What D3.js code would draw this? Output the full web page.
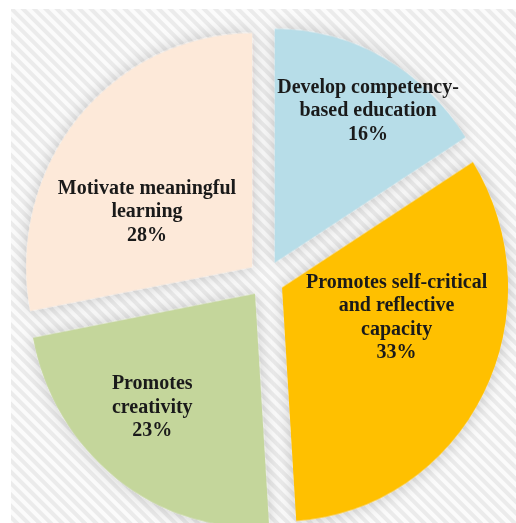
<!DOCTYPE html>
<html lang="en">
<head>
<meta charset="UTF-8">
<title>Pie chart with d3</title>
<script src="https://d3js.org/d3.v7.min.js"></script>
<style>
    body { margin: 0; background: #fff; }
    svg { display: block; }
    .label { font-family: 'Liberation Serif', 'Times New Roman', serif; font-weight: bold; font-size: 20px; fill: #1a1a1a; }
</style>
</head>
<body>
<script>
// data
var categories = ['Develop competency-based education', 'Promotes self-critical and reflective capacity', 'Promotes creativity', 'Motivate meaningful learning'];
var values = [16, 33, 23, 28];
var labelLines = [
    ['Develop competency-', 'based education'],
    ['Promotes self-critical', 'and reflective', 'capacity'],
    ['Promotes', 'creativity'],
    ['Motivate meaningful', 'learning']
];
var colors = ['#b7dde8', '#ffc000', '#c4d69b', '#fde9d9'];

// layout
var width = 516, height = 523;
var cx = 266, cy = 279, radius = 226, yStretch = 1.035, explode = 18;
var lineHeight = 23.5;
// where each label sits, measured from the pie centre
var labelR = [197, 136, 171, 137];
var labelShift = [2.4, -10.8, 3.9, -9.9]; // degrees

var svg = d3.select('body').append('svg')
    .attr('width', width)
    .attr('height', height);

var defs = svg.append('defs');

// striped background
var pattern = defs.append('pattern')
    .attr('id', 'stripes')
    .attr('patternUnits', 'userSpaceOnUse')
    .attr('width', 8)
    .attr('height', 8)
    .attr('patternTransform', 'rotate(-45)');
pattern.append('rect').attr('width', 8).attr('height', 8).attr('fill', '#fbfbfb');
pattern.append('rect').attr('width', 4).attr('height', 8).attr('fill', '#ebebeb');

var shadow = defs.append('filter')
    .attr('id', 'shadow')
    .attr('x', '-20%').attr('y', '-20%')
    .attr('width', '140%').attr('height', '140%');
shadow.append('feDropShadow')
    .attr('dx', 0).attr('dy', 0)
    .attr('stdDeviation', 8)
    .attr('flood-color', '#000')
    .attr('flood-opacity', 0.2);

svg.append('rect')
    .attr('x', 11).attr('y', 9)
    .attr('width', width - 11).attr('height', height - 9)
    .attr('fill', 'url(#stripes)');

var pie = d3.pie().sort(null).value(d => d);
var arcs = pie(values);

var arc = d3.arc().innerRadius(0).outerRadius(radius);

var g = svg.append('g')
    .attr('transform', 'translate(' + cx + ',' + cy + ') scale(1,' + yStretch + ')')
    .attr('filter', 'url(#shadow)');

g.selectAll('path')
    .data(arcs)
    .enter()
    .append('path')
    .attr('d', arc)
    .attr('fill', (d, i) => colors[i])
    .attr('transform', function(d) {
        var mid = (d.startAngle + d.endAngle) / 2;
        return 'translate(' + (explode * Math.sin(mid)) + ',' + (-explode * Math.cos(mid)) + ')';
    });

// labels
var total = d3.sum(values);
var labels = svg.append('g');
arcs.forEach(function(d, i) {
    var mid = (d.startAngle + d.endAngle) / 2 + labelShift[i] * Math.PI / 180;
    var x = cx + labelR[i] * Math.sin(mid);
    var y = cy - labelR[i] * Math.cos(mid);
    var lines = labelLines[i].concat([Math.round(values[i] / total * 100) + '%']);
    var top = y - (lines.length - 1) * lineHeight / 2 + 6;
    var t = labels.append('text')
        .attr('class', 'label')
        .attr('text-anchor', 'middle');
    lines.forEach(function(line, j) {
        t.append('tspan')
            .attr('x', x)
            .attr('y', top + j * lineHeight)
            .text(line);
    });
});
</script>
</body>
</html>
